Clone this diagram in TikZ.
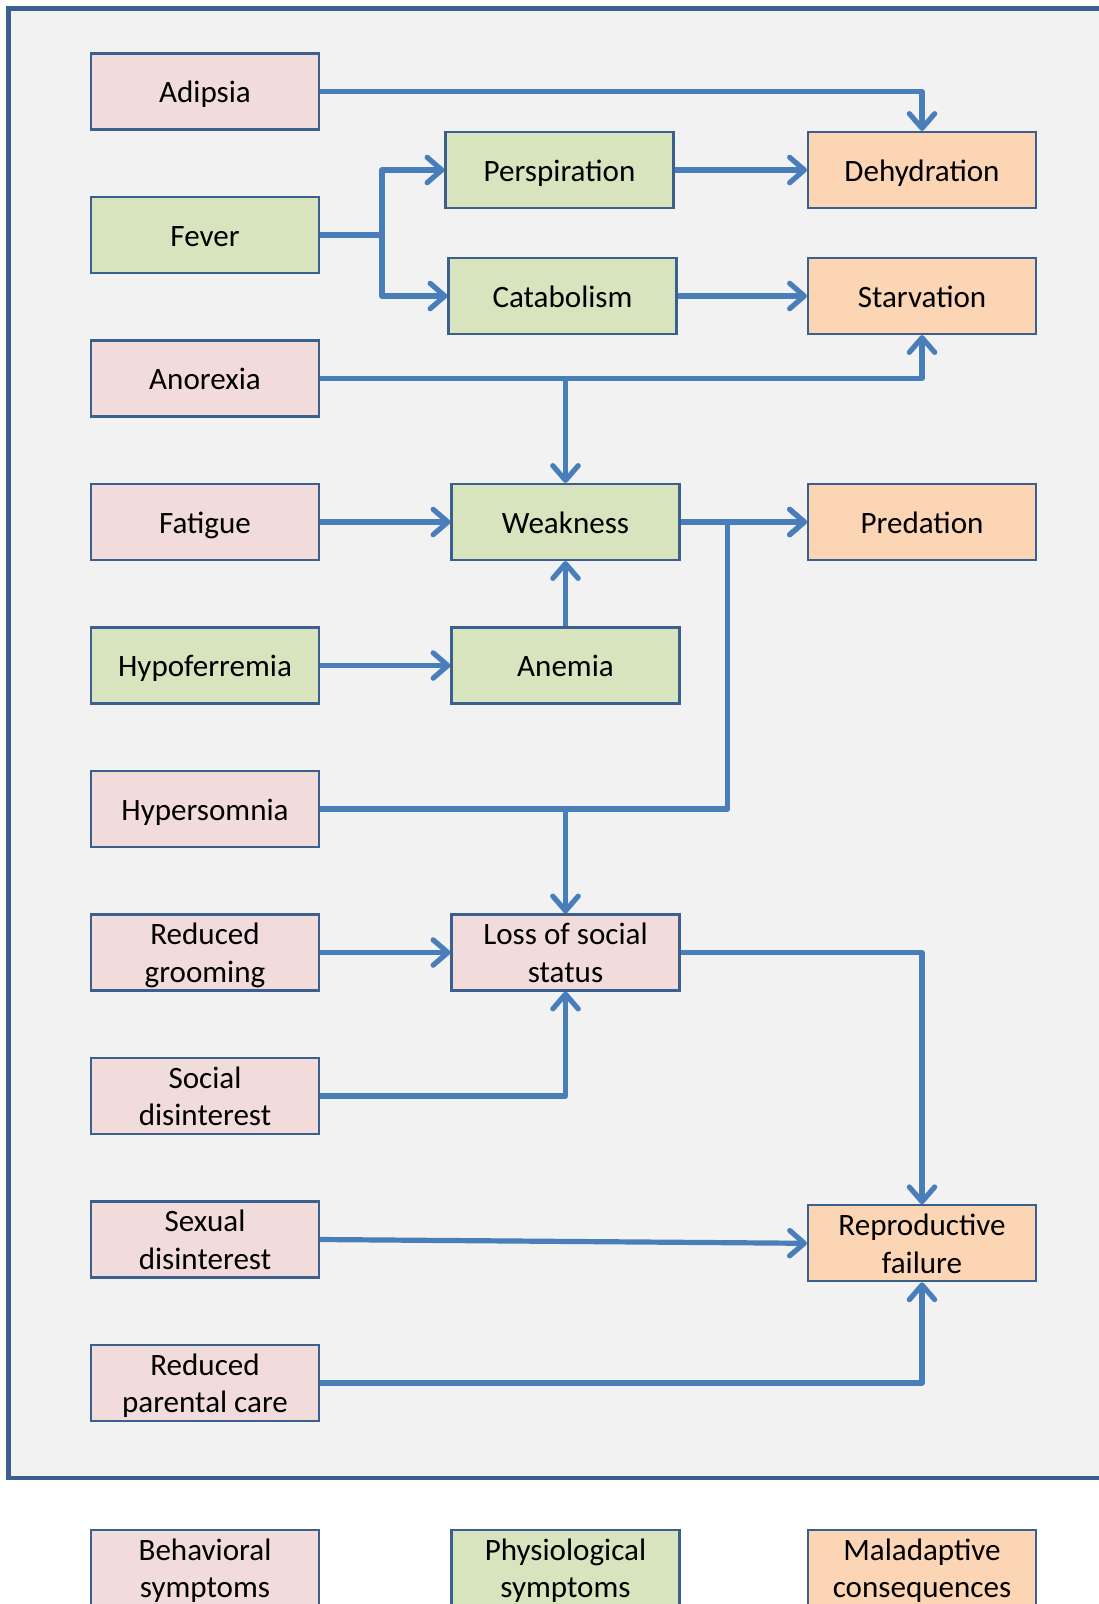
\documentclass[tikz,border=0pt]{standalone}
\usepackage{fontspec}
\setmainfont{Carlito}
\usetikzlibrary{arrows.meta}
\definecolor{pinkbox}{HTML}{F2DCDB}
\definecolor{greenbox}{HTML}{D7E4BD}
\definecolor{orangebox}{HTML}{FCD5B5}
\definecolor{boxline}{HTML}{3B5F8E}
\definecolor{arrowblue}{HTML}{4A7EBB}
\definecolor{framefill}{HTML}{F2F2F2}
\newcommand\myStrut{\rule[-5.5pt]{0pt}{27.5pt}}
\newcommand\twoLines[2]{\myStrut#1\\\myStrut#2}
\tikzset{
  box/.style={draw=boxline, line width=1.6pt, minimum width=171pt, minimum height=57pt,
    inner sep=0pt, align=center, font=\fontsize{23.3}{28.3}\selectfont,
    execute at begin node=\myStrut, execute at end node=\myStrut},
  bhv/.style={box, fill=pinkbox},
  phy/.style={box, fill=greenbox},
  mal/.style={box, fill=orangebox},
  conn/.style={draw=arrowblue, line width=3.9pt, line join=round},
  arr/.style={conn, -{Straight Barb[length=11pt,width=19pt,line cap=round,line join=round]}},
}
\begin{document}
\begin{tikzpicture}[x=0.75pt,y=-0.75pt]
\clip (0,0) rectangle (1099,1604);
\fill[white] (0,0) rectangle (1099,1604);
\draw[draw=boxline, fill=framefill, line width=3.4pt] (8.3,8.3) rectangle (1120,1478);

% left column
\node[bhv] (adipsia)  at (205,91.5)  {Adipsia};
\node[phy] (fever)    at (205,235)   {Fever};
\node[bhv] (anorexia) at (205,378.5) {Anorexia};
\node[bhv] (fatigue)  at (205,522)   {Fatigue};
\node[phy] (hypofer)  at (205,665.5) {Hypoferremia};
\node[bhv] (hyper)    at (205,809)   {Hypersomnia};
\node[bhv] (groom)    at (205,952.5) {\twoLines{Reduced}{grooming}};
\node[bhv] (social)   at (205,1096)  {\twoLines{Social}{disinterest}};
\node[bhv] (sexual)   at (205,1239.5){\twoLines{Sexual}{disinterest}};
\node[bhv] (parental) at (205,1383)  {\twoLines{Reduced}{parental care}};

% middle column
\node[phy] (persp)  at (559.5,170) {Perspiration};
\node[phy] (catab)  at (562.5,296) {Catabolism};
\node[phy] (weak)   at (565.5,522) {Weakness};
\node[phy] (anemia) at (565.5,665.5) {Anemia};
\node[bhv] (loss)   at (565.5,952.5) {\twoLines{Loss of social}{status}};

% right column
\node[mal] (dehyd)  at (922,170) {Dehydration};
\node[mal] (starv)  at (922,296) {Starvation};
\node[mal] (pred)   at (922,522) {Predation};
\node[mal] (repro)  at (922,1243.3) {\twoLines{Reproductive}{failure}};

% legend
\node[bhv] (lbeh) at (205,1568)   {\twoLines{Behavioral}{symptoms}};
\node[phy] (lphy) at (565.5,1568) {\twoLines{Physiological}{symptoms}};
\node[mal] (lmal) at (922,1568)   {\twoLines{Maladaptive}{consequences}};

% connectors
\draw[arr] (adipsia.east) -| (dehyd.north);
\coordinate (fj) at (382,235);
\draw[conn] (fever.east) -- (fj);
\draw[arr] (fj) |- (persp.west);
\draw[arr] (fj) |- (catab.west);
\draw[arr] (persp.east) -- (dehyd.west);
\draw[arr] (catab.east) -- (starv.west);
\draw[arr] (anorexia.east) -| (starv.south);
\coordinate (aj) at (weak.north |- anorexia.east);
\draw[arr] (aj) -- (weak.north);
\draw[arr] (fatigue.east) -- (weak.west);
\draw[arr] (hypofer.east) -- (anemia.west);
\draw[arr] (anemia.north) -- (weak.south);
\draw[arr] (weak.east) -- (pred.west);
\coordinate (hj) at (727.7,522);
\draw[arr] (hyper.east) -| (hj) -- (pred.west);
\coordinate (hl) at (loss.north |- hyper.east);
\draw[arr] (hl) -- (loss.north);
\draw[arr] (groom.east) -- (loss.west);
\draw[arr] (social.east) -| (loss.south);
\draw[arr] (loss.east) -| (repro.north);
\draw[arr] (sexual.east) -- (repro.west);
\draw[arr] (parental.east) -| (repro.south);
\end{tikzpicture}
\end{document}
